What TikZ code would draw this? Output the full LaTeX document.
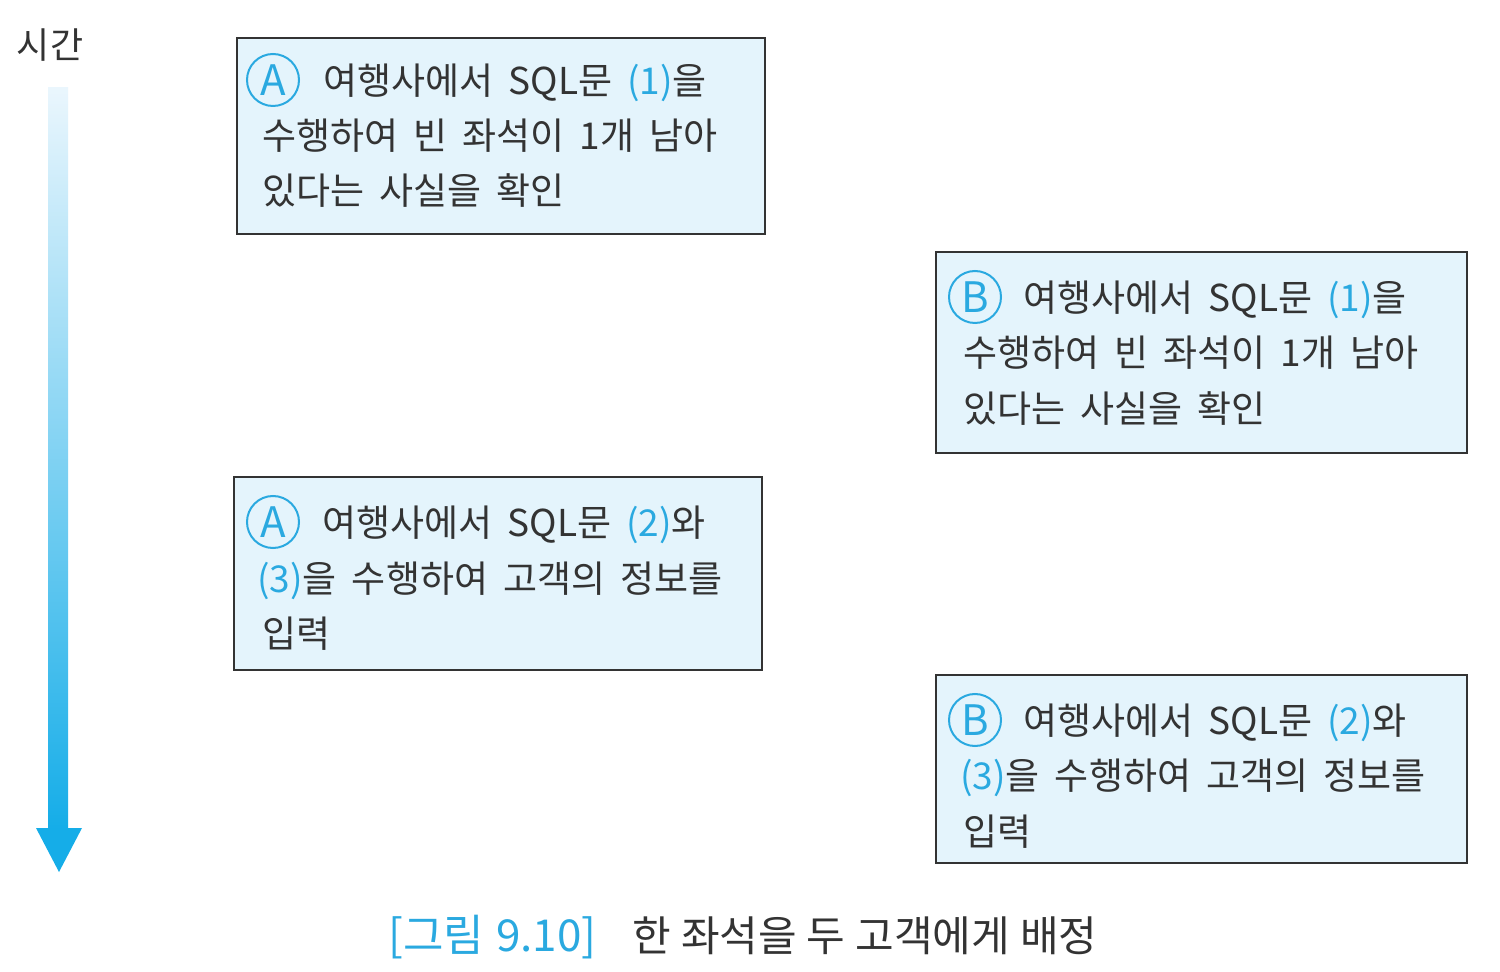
\documentclass[tikz,border=0pt]{standalone}
\usepackage{fontspec}
\setmainfont{Noto Sans CJK KR}
\newfontfamily\circfont{Noto Sans CJK KR}
\definecolor{cblue}{HTML}{2AA9E0}
\definecolor{boxfill}{HTML}{E4F4FC}
\definecolor{ink}{HTML}{333333}
\definecolor{arrtop}{HTML}{EAF6FD}
\definecolor{arrbot}{HTML}{15ADE8}
\newcommand\boxfnt{\fontsize{18.5}{20}\selectfont\spaceskip=7.5pt plus 1pt\relax}
\newcommand\capfnt{\fontsize{21}{22}\selectfont\spaceskip=5pt plus 1pt\relax}
\newcommand\capnumfnt{\fontsize{22}{23}\selectfont\spaceskip=6pt plus 1pt\relax}
\begin{document}
\begin{tikzpicture}[x=0.5pt,y=-0.5pt,
  box/.style={draw=ink,line width=1pt,fill=boxfill},
  ln/.style={anchor=base west,inner sep=0pt,text=ink,font=\boxfnt},
  circ/.style={circle,draw=cblue,line width=1pt,minimum size=26pt,inner sep=0pt,text=cblue,font=\circfont\fontsize{21}{21}\selectfont},
  capt/.style={anchor=base west,inner sep=0pt,font=\capfnt}]
\useasboundingbox (0,0) rectangle (1500,972);
\fill[white] (0,0) rectangle (1500,972);
% time arrow
\node[ln,anchor=center,font=\fontsize{18}{20}\selectfont] (time) at (50,45) {시간};
\shade[top color=arrtop,bottom color=arrbot] (48,88) rectangle (68,830);
\fill[arrbot] (36,828) -- (82,828) -- (59,872) -- cycle;
% box A1
\draw[box] (237,38) rectangle (765,234);
\node[circ] (ca1) at (273,80) {A};
\node[ln] (a1l1) at (323,95) {여행사에서 SQL문 \textcolor{cblue}{(1)}을};
\node[ln] (a1l2) at (262,150) {수행하여 빈 좌석이 1개 남아};
\node[ln] (a1l3) at (262,205) {있다는 사실을 확인};
% box B1
\draw[box] (936,252) rectangle (1467,453);
\node[circ] (cb1) at (975,297) {B};
\node[ln] (b1l1) at (1023,312) {여행사에서 SQL문 \textcolor{cblue}{(1)}을};
\node[ln] (b1l2) at (963,367) {수행하여 빈 좌석이 1개 남아};
\node[ln] (b1l3) at (963,423) {있다는 사실을 확인};
% box A2
\draw[box] (234,477) rectangle (762,670);
\node[circ] (ca2) at (273,522) {A};
\node[ln] (a2l1) at (322,537) {여행사에서 SQL문 \textcolor{cblue}{(2)}와};
\node[ln] (a2l2) at (257,593) {\textcolor{cblue}{(3)}을 수행하여 고객의 정보를};
\node[ln] (a2l3) at (262,648) {입력};
% box B2
\draw[box] (936,675) rectangle (1467,863);
\node[circ] (cb2) at (975,720) {B};
\node[ln] (b2l1) at (1023,735) {여행사에서 SQL문 \textcolor{cblue}{(2)}와};
\node[ln] (b2l2) at (960,790) {\textcolor{cblue}{(3)}을 수행하여 고객의 정보를};
\node[ln] (b2l3) at (963,845) {입력};
% caption
\node[capt,text=cblue,font=\capnumfnt] (capnum) at (388,951) {[그림 9.10]};
\node[capt,text=ink] (captxt) at (632,951) {한 좌석을 두 고객에게 배정};
\end{tikzpicture}
\end{document}
